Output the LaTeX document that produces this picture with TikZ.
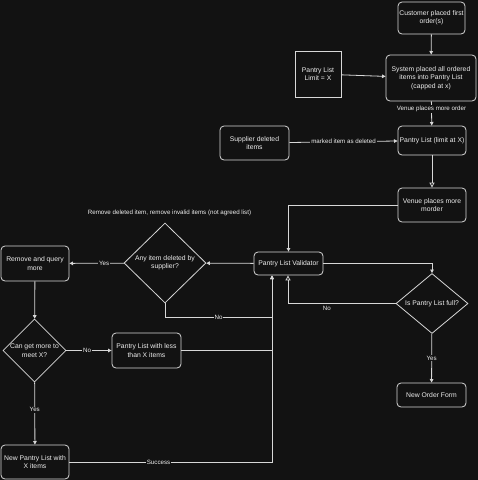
\documentclass[tikz,border=0pt]{standalone}
\usepackage{fontspec}
\setmainfont{Liberation Sans}
\usetikzlibrary{arrows.meta,shapes.geometric}
\definecolor{bgdark}{RGB}{18,18,18}
\definecolor{lineclr}{RGB}{215,215,215}
\definecolor{txtclr}{RGB}{238,238,238}

\begin{document}
\begin{tikzpicture}[x=1pt,y=-1pt,
  box/.style={draw=lineclr,line width=0.8pt,rounded corners=4pt,text=txtclr,align=center,
    inner sep=1pt,font=\fontsize{6.8}{8.4}\selectfont},
  sqbox/.style={box,rounded corners=0pt},
  decision/.style={box,rounded corners=0pt,diamond,inner sep=0pt},
  flow/.style={draw=lineclr,line width=0.8pt,-{Triangle[width=3.6pt,length=3.6pt]}},
  openflow/.style={draw=lineclr,line width=0.8pt,-{Triangle[open,width=5pt,length=5pt]}},
  lbl/.style={fill=bgdark,text=txtclr,inner sep=1pt,font=\fontsize{6.2}{7.4}\selectfont}]
\fill[bgdark] (0,0) rectangle (478,480);
% boxes
\node[box,minimum width=67pt,minimum height=32pt] (cust) at (431.5,18) {Customer placed first\\order(s)};
\node[sqbox,minimum width=46pt,minimum height=46pt] (limit) at (318,74) {Pantry List\\Limit = X};
\node[box,minimum width=90pt,minimum height=46pt] (sysplaced) at (431,78) {System placed all ordered\\items into Pantry List\\(capped at x)};
\node[box,minimum width=69pt,minimum height=34pt] (supdel) at (254.5,143) {Supplier deleted\\items};
\node[box,minimum width=68pt,minimum height=29pt] (plist) at (432,140.5) {Pantry List (limit at X)};
\node[box,minimum width=68pt,minimum height=34pt] (venue) at (432,205) {Venue places more\\morder};
\node[box,minimum width=69pt,minimum height=23pt] (validator) at (288.5,263.5) {Pantry List Validator};
\node[decision,minimum width=82pt,minimum height=80pt] (anydel) at (165,263) {Any item deleted by\\supplier?};
\node[decision,minimum width=72pt,minimum height=57pt] (full) at (432,303.5) {Is Pantry List full?};
\node[box,minimum width=69pt,minimum height=24pt] (neworder) at (431.5,395) {New Order Form};
\node[box,minimum width=68pt,minimum height=35pt] (remq) at (35,263.5) {Remove and query\\more};
\node[decision,minimum width=63pt,minimum height=63pt] (canget) at (34.5,350.5) {Can get more to\\meet X?};
\node[box,minimum width=69pt,minimum height=35pt] (lessx) at (146.5,350.5) {Pantry List with less\\than X items};
\node[box,minimum width=68pt,minimum height=34pt] (newx) at (35,462) {New Pantry List with\\X items};
\node[lbl,fill=none] (note) at (169.5,213) {Remove deleted item, remove invalid items (not agreed list)};
\coordinate (vin) at (272,275.5);
% connectors
\draw[flow] (cust) -- (sysplaced);
\draw[flow] (limit) -- (sysplaced);
\draw[flow] (sysplaced) -- node[lbl,pos=0.3] {Venue places more order} (plist);
\draw[flow] (supdel) -- node[lbl] {marked item as deleted} (plist);
\draw[openflow] (plist) -- (venue);
\draw[flow] (venue.west) -| (validator.north);
\draw[flow] (validator) -- (anydel);
\draw[flow] (anydel) -- node[lbl,pos=0.36] {Yes} (remq);
\draw[flow] (anydel.south) -- ++(0,14) -| node[lbl,pos=0.25] {No} (vin);
\draw[flow] (remq) -- (canget);
\draw[flow] (canget) -- node[lbl,pos=0.46] {No} (lessx);
\draw[flow] (canget) -- node[lbl,pos=0.44] {Yes} (newx);
\draw[flow] (lessx.east) -| (vin);
\draw[flow] (newx.east) -| node[lbl,pos=0.22] {Success} (vin);
\draw[flow] (validator.east) -| (full.north);
\draw[openflow] (full.west) -| node[lbl,fill=none,pos=0.32,below=1pt] {No} (validator.south -| 288,0);
\draw[flow] (full) -- node[lbl] {Yes} (neworder);
\end{tikzpicture}
\end{document}
